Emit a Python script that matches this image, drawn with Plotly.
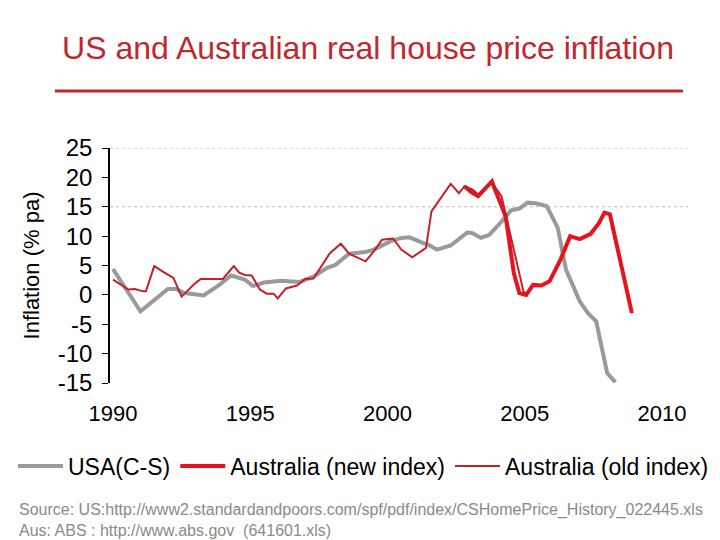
import plotly.graph_objects as go

# ---- data ----
usa_years = [1990.0, 1991.0, 1992.0, 1992.3, 1992.6, 1993.3, 1993.9, 1994.3, 1994.8,
             1995.1, 1995.5, 1996.1, 1996.8, 1997.3, 1997.8, 1998.1, 1998.6, 1999.2,
             1999.5, 2000.1, 2000.5, 2000.8, 2001.3, 2001.5, 2001.8, 2002.3, 2002.9,
             2003.1, 2003.4, 2003.7, 2004.1, 2004.5, 2004.8, 2005.1, 2005.4, 2005.8,
             2006.2, 2006.5, 2007.0, 2007.3, 2007.6, 2008.0, 2008.3]
usa_values = [4.4, -2.8, 1.0, 1.0, 0.3, -0.1, 1.8, 3.3, 2.6,
              1.5, 2.1, 2.4, 2.2, 3.1, 4.6, 5.1, 7.0, 7.3,
              7.7, 9.1, 9.7, 9.8, 8.8, 8.5, 7.7, 8.4, 10.6,
              10.5, 9.7, 10.2, 12.2, 14.4, 14.7, 15.7, 15.6, 15.1,
              11.4, 4.3, -1.1, -3.1, -4.5, -13.3, -14.9]

aus_new_years = [2002.8, 2003.05, 2003.3, 2003.55, 2003.8, 2004.3, 2004.6, 2004.8,
                 2005.05, 2005.3, 2005.6, 2005.9, 2006.3, 2006.65, 2007.0, 2007.4,
                 2007.7, 2007.9, 2008.1, 2008.9]
aus_new_values = [18.5, 17.5, 16.8, 18.0, 19.3, 13.4, 3.7, 0.3,
                  0.0, 1.7, 1.6, 2.3, 6.0, 10.0, 9.5, 10.4,
                  12.2, 14.0, 13.7, -3.1]

aus_old_years = [1990.0, 1990.56, 1990.8, 1991.1, 1991.2, 1991.5, 1991.8, 1992.2,
                 1992.5, 1993.0, 1993.2, 1994.0, 1994.4, 1994.6, 1994.8, 1995.05,
                 1995.35, 1995.6, 1995.85, 1996.0, 1996.3, 1996.7, 1997.0, 1997.3,
                 1997.9, 1998.3, 1998.6, 1998.9, 1999.2, 1999.5, 1999.8, 2000.2,
                 2000.5, 2000.9, 2001.4, 2001.6, 2001.9, 2002.3, 2002.6, 2002.8,
                 2003.1, 2003.3, 2003.55, 2003.8, 2004.15, 2004.95, 2005.1]
aus_old_values = [2.6, 0.9, 1.0, 0.6, 0.6, 4.9, 4.0, 2.9,
                  -0.3, 2.0, 2.7, 2.7, 4.9, 3.8, 3.4, 3.3,
                  0.9, 0.2, 0.2, -0.6, 1.1, 1.6, 2.7, 2.8,
                  7.1, 8.7, 7.0, 6.4, 5.7, 7.4, 9.4, 9.6,
                  7.7, 6.4, 8.0, 14.2, 16.2, 18.9, 17.3, 18.5,
                  17.9, 17.1, 18.2, 19.1, 16.8, 0.6, -0.1]

year_ticks = [1990, 1995, 2000, 2005, 2010]
value_ticks = [25, 20, 15, 10, 5, 0, -5, -10, -15]
value_tick_labels = ["25", "20", "15", "10", "5", "0", "-5", "-10", "-15"]
grid_levels = [25, 15]

title_text = "US and Australian real house price inflation"
source_lines = [
    "Source: US:http://www2.standardandpoors.com/spf/pdf/index/CSHomePrice_History_022445.xls",
    "Aus: ABS : http://www.abs.gov  (641601.xls)",
]

FONT = "Arial, Liberation Sans, sans-serif"
RED_TITLE = "#c0282d"

fig = go.Figure()
fig.add_trace(go.Scatter(x=usa_years, y=usa_values, mode="lines", name="USA(C-S)",
                         line=dict(color="#9a9a9a", width=4)))
fig.add_trace(go.Scatter(x=aus_new_years, y=aus_new_values, mode="lines",
                         name="Australia (new index)",
                         line=dict(color="#e8121a", width=4)))
fig.add_trace(go.Scatter(x=aus_old_years, y=aus_old_values, mode="lines",
                         name="Australia (old index)",
                         line=dict(color="#c0222a", width=2)))

# plot area: 610 px wide, but the gridlines stop at 578 px like the reference
GRID_END = 578 / 610

shapes = []
for g in grid_levels:
    shapes.append(dict(type="line", xref="paper", yref="y", x0=0, x1=GRID_END, y0=g, y1=g,
                       line=dict(color="#bbbbbb", width=1, dash="dot"), layer="below"))
# red rule under title
shapes.append(dict(type="line", xref="paper", yref="paper", x0=-0.0902, x1=0.9393,
                   y0=1.243, y1=1.243, line=dict(color=RED_TITLE, width=3)))

annotations = []
for i, s in enumerate(source_lines):
    annotations.append(dict(text=s, xref="paper", yref="paper", x=-0.1525,
                            y=-0.54 - i * 0.086, xanchor="left", yanchor="middle",
                            showarrow=False,
                            font=dict(family=FONT, size=16, color="#8a8a8a")))

# the page body has an 8px margin, so the figure is laid out 8px up/left
fig.update_layout(
    width=720, height=540,
    margin=dict(l=102, r=8, t=140, b=165, autoexpand=False),
    paper_bgcolor="white", plot_bgcolor="white",
    title=dict(text=title_text, x=0.5, xref="container", xanchor="center",
               y=1 - 40 / 540, yref="container", yanchor="middle",
               font=dict(family=FONT, size=32, color=RED_TITLE)),
    font=dict(family=FONT, color="black"),
    showlegend=True,
    legend=dict(orientation="h", xref="paper", yref="paper",
                x=-0.159, y=-0.353, xanchor="left", yanchor="middle",
                font=dict(family=FONT, size=23, color="black"),
                itemwidth=45, bgcolor="rgba(0,0,0,0)"),
    shapes=shapes,
    annotations=annotations,
)
fig.update_xaxes(range=[1989.89, 2012.11], tickvals=year_ticks,
                 ticktext=[str(y) for y in year_ticks],
                 showgrid=False, zeroline=False, showline=False, ticks="",
                 tickfont=dict(family=FONT, size=22, color="black"),
                 ticklabelstandoff=15)
fig.update_yaxes(range=[-15, 25], tickvals=value_ticks, ticktext=value_tick_labels,
                 showgrid=False, zeroline=False, showline=True, linecolor="black",
                 linewidth=1.5, ticks="outside", ticklen=6, tickcolor="black",
                 tickfont=dict(family=FONT, size=24, color="black"),
                 ticklabelstandoff=5,
                 title=dict(text="Inflation (% pa)", standoff=12,
                            font=dict(family=FONT, size=22, color="black")))

fig.write_html("out.html")
